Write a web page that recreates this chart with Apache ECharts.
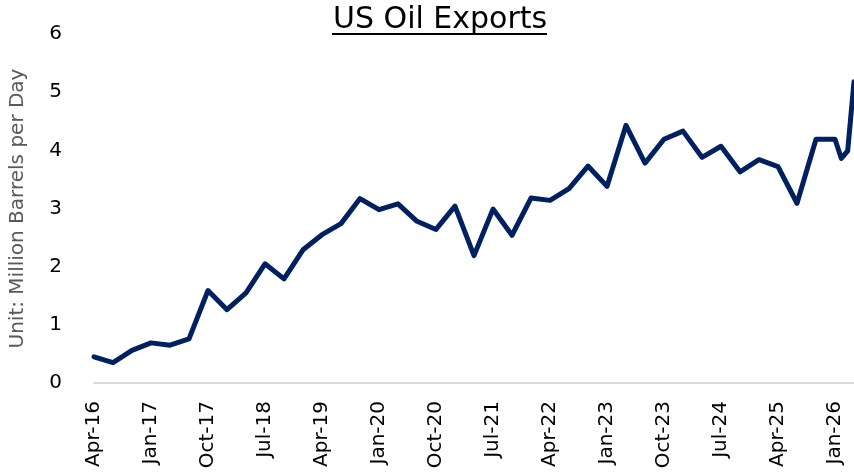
<!DOCTYPE html>
<html>
<head>
<meta charset="utf-8">
<script src="https://cdn.jsdelivr.net/npm/echarts@6/dist/echarts.min.js"></script>
<style>
  html, body { margin: 0; padding: 0; background: #fff; }
  #chart { width: 854px; height: 472px; }
</style>
</head>
<body>
<div id="chart"></div>
<script>
// data points: quarterly until Jan-26, then monthly
const dates = [
  'Apr-16', 'Jul-16', 'Oct-16', 'Jan-17', 'Apr-17', 'Jul-17', 'Oct-17', 'Jan-18',
  'Apr-18', 'Jul-18', 'Oct-18', 'Jan-19', 'Apr-19', 'Jul-19', 'Oct-19', 'Jan-20',
  'Apr-20', 'Jul-20', 'Oct-20', 'Jan-21', 'Apr-21', 'Jul-21', 'Oct-21', 'Jan-22',
  'Apr-22', 'Jul-22', 'Oct-22', 'Jan-23', 'Apr-23', 'Jul-23', 'Oct-23', 'Jan-24',
  'Apr-24', 'Jul-24', 'Oct-24', 'Jan-25', 'Apr-25', 'Jul-25', 'Oct-25', 'Jan-26',
  'Feb-26', 'Mar-26', 'Apr-26'
]
const exports = [
  0.45, 0.35, 0.56, 0.69, 0.65, 0.76, 1.59, 1.26,
  1.55, 2.05, 1.79, 2.29, 2.55, 2.74, 3.17, 2.98,
  3.08, 2.78, 2.64, 3.04, 2.19, 2.99, 2.54, 3.18,
  3.14, 3.34, 3.73, 3.38, 4.43, 3.78, 4.19, 4.33,
  3.88, 4.07, 3.63, 3.84, 3.72, 3.09, 4.19, 4.19,
  3.86, 3.99, 5.18
]
const yTicks = [0, 1, 2, 3, 4, 5, 6]

// monthly category axis Apr-16 .. Apr-26, a label every 9 months
const monthNames = ['Jan', 'Feb', 'Mar', 'Apr', 'May', 'Jun', 'Jul', 'Aug', 'Sep', 'Oct', 'Nov', 'Dec']
const months = []
for (let y = 2016; y <= 2026; y++) {
  for (let m = 0; m < 12; m++) {
    if (y === 2016 && m < 3) continue
    if (y === 2026 && m > 3) break
    months.push(monthNames[m] + '-' + String(y).slice(2))
  }
}

const font = 'DejaVu Sans'
const chart = echarts.init(document.getElementById('chart'))

chart.setOption({
  animation: false,
  title: {
    text: 'US Oil Exports',
    left: 328,
    top: 0,
    textStyle: { fontFamily: font, fontSize: 30, fontWeight: 'normal', color: '#000' }
  },
  graphic: [{
    type: 'line',
    shape: { x1: 332, y1: 34, x2: 547, y2: 34 },
    style: { stroke: '#000', lineWidth: 2 }
  }],
  grid: { left: 94, right: 0, top: 34, bottom: 89 },
  xAxis: {
    type: 'category',
    data: months,
    boundaryGap: false,
    axisLine: { lineStyle: { color: '#d9d9d9', width: 2 } },
    axisTick: { show: false },
    axisLabel: {
      rotate: 90,
      interval: 8,
      margin: 18,
      fontFamily: font,
      fontSize: 20,
      color: '#000'
    }
  },
  yAxis: {
    type: 'value',
    min: yTicks[0],
    max: yTicks[yTicks.length - 1],
    interval: 1,
    name: 'Unit: Million Barrels per Day',
    nameLocation: 'middle',
    nameGap: 66,
    nameTextStyle: { fontFamily: font, fontSize: 20, color: '#595959' },
    axisLine: { show: false },
    axisTick: { show: false },
    splitLine: { show: false },
    axisLabel: { margin: 32, fontFamily: font, fontSize: 20, color: '#000' }
  },
  series: [{
    type: 'line',
    data: dates.map((d, i) => [d, exports[i]]),
    showSymbol: false,
    lineStyle: { color: '#002060', width: 5, join: 'round', cap: 'round' }
  }]
})
</script>
</body>
</html>
